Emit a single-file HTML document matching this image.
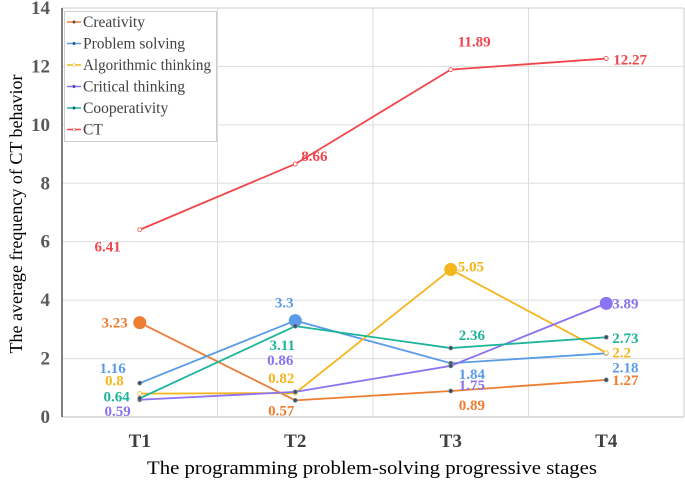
<!DOCTYPE html>
<html><head><meta charset="utf-8"><style>
body{margin:0;background:#fff}
svg text{font-family:"Liberation Serif",serif}
</style></head><body>
<svg id="c" width="685" height="478" xmlns="http://www.w3.org/2000/svg"></svg>
<script>
const categories=["T1","T2","T3","T4"];
const seriesNames=["Creativity","Problem solving","Algorithmic thinking","Critical thinking","Cooperativity","CT"];
const creativity=[3.23,0.57,0.89,1.27];
const problemSolving=[1.16,3.3,1.84,2.18];
const algorithmic=[0.8,0.82,5.05,2.2];
const critical=[0.59,0.86,1.75,3.89];
const cooperativity=[0.64,3.11,2.36,2.73];
const ct=[6.41,8.66,11.89,12.27];
const yTicks=[0,2,4,6,8,10,12,14];
const colors=["#ED7D31","#5B9BE8","#F5B51C","#8B72F0","#1DB59A","#F0464B"];
const bigIdx=[0,1,2,3,-1,-1];
const labelOff=[
 [[-12,0,"end"],[-14,10,"middle"],[8,14,"start"],[6,0,"start"]],
 [[-14,-15,"end"],[-11,-18,"middle"],[8,11,"start"],[6,14,"start"]],
 [[-16,-13,"end"],[-14,-15,"middle"],[7,-3,"start"],[6,0,"start"]],
 [[-9,11,"end"],[-15,-32,"middle"],[8,19,"start"],[6,0,"start"]],
 [[-10,-2,"end"],[-13,19,"middle"],[8,-13,"start"],[6,1,"start"]],
 [[-19,17,"end"],[6,-8,"start"],[7,-28,"start"],[7,1,"start"]]
];
const data=[creativity,problemSolving,algorithmic,critical,cooperativity,ct];
const L=62,R=684,T=8,B=417,yMax=14;
const bw=(R-L)/categories.length;
const xS=i=>L+bw*(i+0.5);
const yS=v=>B-(v/yMax)*(B-T);
const svg=document.getElementById('c');
const NS="http://www.w3.org/2000/svg";
function mk(t,a,p){const e=document.createElementNS(NS,t);for(const k in a)e.setAttribute(k,a[k]);(p||svg).appendChild(e);return e;}
yTicks.forEach(v=>{
 const g=mk('line',{x1:L,x2:R,y1:yS(v),y2:yS(v),stroke:v==0?'#bbb':'#ddd','stroke-width':1});
 
 
 const t=mk('text',{x:L-12,y:yS(v)+6,'text-anchor':'end','font-size':19,'font-weight':'bold',fill:'#595959'});
 t.textContent=v;
 
 
});
for(let i=1;i<categories.length;i++){
 const g=mk('line',{x1:L+bw*i,x2:L+bw*i,y1:T,y2:B,stroke:'#ddd'});
 
 
}
mk('line',{x1:L,x2:R,y1:T,y2:T,stroke:'#ccc'});
mk('line',{x1:R,x2:R,y1:T,y2:B,stroke:'#ccc'});
const ax=mk('line',{x1:L,x2:L,y1:T,y2:B,stroke:'#555','stroke-width':1.5});


categories.forEach((c,i)=>{
 const t=mk('text',{x:xS(i),y:447,'text-anchor':'middle','font-size':19,'font-weight':'bold',fill:'#404040'});
 t.textContent=c;
 
 
});
const xt=mk('text',{x:147,y:474,'font-size':19,fill:'#000',textLength:450,lengthAdjust:'spacingAndGlyphs'});
xt.textContent="The programming problem-solving progressive stages";


const yt=mk('text',{x:0,y:0,'text-anchor':'middle','font-size':18,fill:'#000',transform:'translate(22,214) rotate(-90)'});
yt.textContent="The average frequency of CT behavior";


data.forEach((d,s)=>{
 const pts=d.map((v,i)=>xS(i)+','+yS(v)).join(' ');
 const pl=mk('polyline',{points:pts,fill:'none',stroke:colors[s],'stroke-width':1.8});
 
 
 d.forEach((v,i)=>{
  const big=bigIdx[s]===i;
  const open=(s==2||s==5)&&!big;
  const m=mk('circle',{cx:xS(i),cy:yS(v),r:big?6.5:2,fill:open?'#fff':(big?colors[s]:'#2f4f6f'),stroke:big?colors[s]:(open?colors[s]:'#888'),'stroke-width':big?0:0.8});
  
  
  const o=labelOff[s][i];
  const t=mk('text',{x:xS(i)+o[0],y:yS(v)+o[1]+5,'text-anchor':o[2],'font-size':15,'font-weight':'bold',fill:colors[s]});
  t.textContent=v;
  
  
 });
});
const lg=mk('rect',{x:64.5,y:11.5,width:152,height:130,fill:'#fff',stroke:'#ccc'});


seriesNames.forEach((n,s)=>{
 const y=22+s*21.5;
 mk('line',{x1:67,x2:81,y1:y,y2:y,stroke:colors[s],'stroke-width':1.5});
 mk('circle',{cx:74,cy:y,r:1.5,fill:(s==2||s==5)?'#fff':'#2f4f6f',stroke:colors[s],'stroke-width':0.5});
 const attrs={x:83,y:y+5,'font-size':15.5,fill:'#404040'};
 if(n.length>18){attrs.textLength=128;attrs.lengthAdjust='spacingAndGlyphs';}
 const t=mk('text',attrs);
 t.textContent=n;
 
 
});
</script>
</body></html>
